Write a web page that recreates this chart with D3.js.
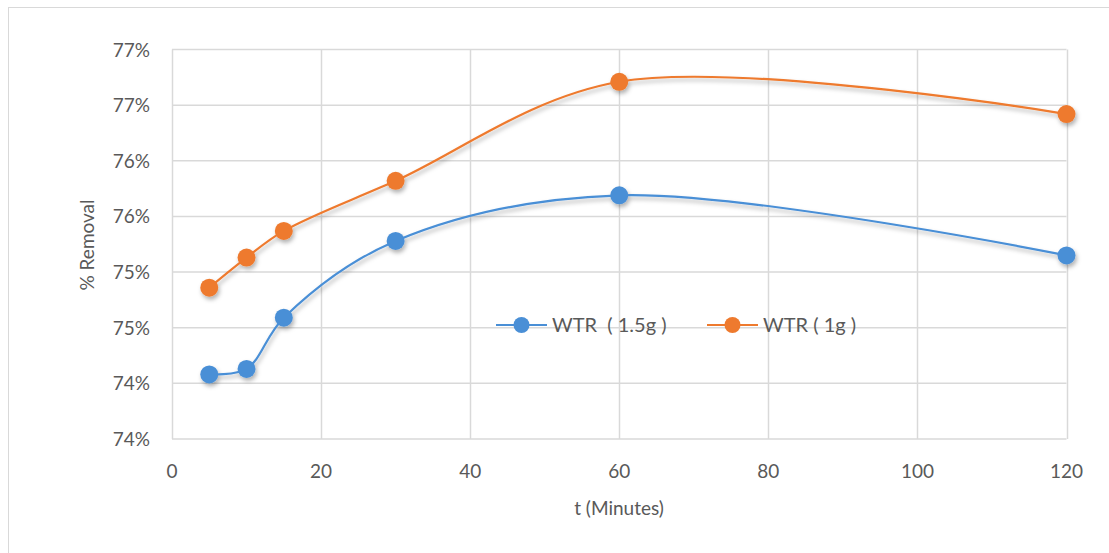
<!DOCTYPE html>
<html>
<head>
<meta charset="utf-8">
<script src="https://cdn.jsdelivr.net/npm/d3@7"></script>
<style>
  body { margin: 0; background: #fff; }
  text { font-family: Lato, "Open Sans", sans-serif; fill: #595959; white-space: pre; }
</style>
</head>
<body>
<div id="chart"></div>
<script>
// data
var times = [5, 10, 15, 30, 60, 120];
var wtr15 = [74.08, 74.13, 74.59, 75.28, 75.69, 75.15];
var wtr1 = [74.86, 75.13, 75.37, 75.82, 76.71, 76.42];
var seriesNames = ["WTR  ( 1.5g )", "WTR ( 1g )"];
var xTicks = [0, 20, 40, 60, 80, 100, 120];
var yTicks = [73.5, 74, 74.5, 75, 75.5, 76, 76.5, 77];

var width = 1109, height = 553;
var plotLeft = 172, plotRight = 1066.5, plotTop = 49.5, plotBottom = 439;
var colors = ["#4a8fd6", "#ee7a2e"];

var svg = d3.select("#chart").append("svg")
  .attr("width", width).attr("height", height);

var defs = svg.append("defs");
defs.append("filter").attr("id", "shadow")
  .attr("x", "-50%").attr("y", "-50%").attr("width", "200%").attr("height", "200%")
  .append("feDropShadow")
  .attr("dx", 1.5).attr("dy", 3).attr("stdDeviation", 2)
  .attr("flood-color", "#000").attr("flood-opacity", 0.3);

// outer frame
svg.append("rect")
  .attr("x", 8.5).attr("y", 7.5).attr("width", 1120).attr("height", 600)
  .attr("fill", "none").attr("stroke", "#d9d9d9");

var x = d3.scaleLinear().domain([0, 120]).range([plotLeft, plotRight]);
var y = d3.scaleLinear().domain([73.5, 77]).range([plotBottom, plotTop]);

// grid
svg.append("g").selectAll("line").data(xTicks).enter().append("line")
  .attr("x1", function(d) { return Math.round(x(d)) + 0.5; })
  .attr("x2", function(d) { return Math.round(x(d)) + 0.5; })
  .attr("y1", plotTop).attr("y2", plotBottom)
  .attr("stroke", "#d9d9d9").attr("stroke-width", 1.5);
svg.append("g").selectAll("line").data(yTicks).enter().append("line")
  .attr("y1", function(d) { return y(d); })
  .attr("y2", function(d) { return y(d); })
  .attr("x1", plotLeft).attr("x2", plotRight)
  .attr("stroke", "#d9d9d9").attr("stroke-width", 1.5);

// tick labels
svg.append("g").selectAll("text").data(yTicks).enter().append("text")
  .attr("x", 150).attr("y", function(d) { return y(d) + 7; })
  .attr("text-anchor", "end").attr("font-size", "19px")
  .text(function(d) { return Math.round(d) + "%"; });
svg.append("g").selectAll("text").data(xTicks).enter().append("text")
  .attr("x", function(d) { return x(d); }).attr("y", 478)
  .attr("text-anchor", "middle").attr("font-size", "19px")
  .text(function(d) { return d; });

// axis titles
svg.append("text").attr("x", 619).attr("y", 515)
  .attr("text-anchor", "middle").attr("font-size", "19px").text("t (Minutes)");
svg.append("text").attr("transform", "translate(94,245) rotate(-90)")
  .attr("text-anchor", "middle").attr("font-size", "19px").text("% Removal");

var line = d3.line()
  .x(function(d) { return x(d[0]); })
  .y(function(d) { return y(d[1]); })
  .curve(d3.curveCatmullRom.alpha(0.5));

[wtr15, wtr1].forEach(function(vals, i) {
  var pts = times.map(function(t, j) { return [t, vals[j]]; });
  var g = svg.append("g").attr("filter", "url(#shadow)");
  g.append("path").datum(pts)
    .attr("d", line).attr("fill", "none")
    .attr("stroke", colors[i]).attr("stroke-width", 2.2);
  g.selectAll("circle").data(pts).enter().append("circle")
    .attr("cx", function(d) { return x(d[0]); })
    .attr("cy", function(d) { return y(d[1]); })
    .attr("r", 9).attr("fill", colors[i]);
});

// legend
var legendX = [496, 707];
seriesNames.forEach(function(name, i) {
  var lg = svg.append("g").attr("transform", "translate(" + legendX[i] + ",325)");
  lg.append("line").attr("x1", 0).attr("x2", 51).attr("y1", 0).attr("y2", 0)
    .attr("stroke", colors[i]).attr("stroke-width", 2);
  lg.append("circle").attr("cx", 25.5).attr("cy", 0).attr("r", 8).attr("fill", colors[i]);
  lg.append("text").attr("x", 56).attr("y", 7).attr("font-size", "20px").text(name);
});
</script>
</body>
</html>
